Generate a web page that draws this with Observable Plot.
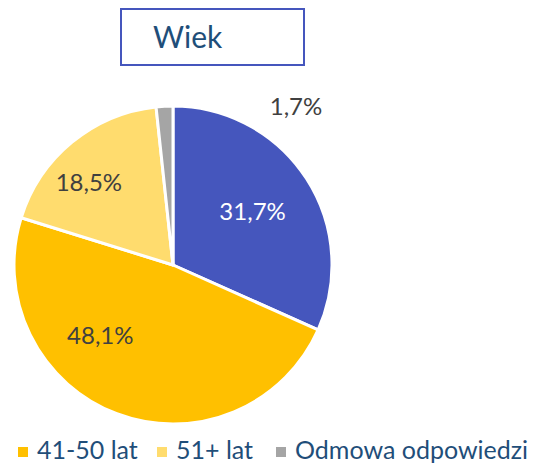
<!DOCTYPE html>
<html>
<head>
<meta charset="utf-8">
<script src="https://cdn.jsdelivr.net/npm/d3@7"></script>
<script src="https://cdn.jsdelivr.net/npm/@observablehq/plot@0.6"></script>
<style>
  html, body { margin: 0; padding: 0; background: #fff; width: 536px; height: 468px; overflow: hidden; font-family: Lato, "Open Sans", sans-serif; }
  #title { position: absolute; left: 120px; top: 8px; width: 181px; height: 54px; border: 2px solid #4556BD; box-sizing: content-box;
           color: #1F4E79; font-size: 30px; line-height: 54px; text-align: left; padding-left: 0; }
  #title span { position: absolute; left: 31px; top: -1px; }
  #chart { position: absolute; left: 0; top: 78px; }
  #legend { position: absolute; left: 0; top: 434px; width: 536px; height: 30px; color: #1F4E79; font-size: 25px; white-space: nowrap; }
  .item { position: absolute; top: 0; line-height: 30px; }
  .sw { display: inline-block; width: 10px; height: 10px; margin-right: 9px; vertical-align: middle; position: relative; top: -1px; }
</style>
</head>
<body>
<div id="title"><span>Wiek</span></div>
<div id="chart"></div>
<div id="legend"></div>
<script>
// Data
const categories = ["31-40 lat", "41-50 lat", "51+ lat", "Odmowa odpowiedzi"];
const values = [31.7, 48.1, 18.5, 1.7];
const labels = ["31,7%", "48,1%", "18,5%", "1,7%"];
const colors = ["#4556BD", "#FFC000", "#FFDC6E", "#A5A5A5"];
const labelColors = ["#FFFFFF", "#404040", "#404040", "#404040"];
// Label placement in unit-circle coordinates (angle in degrees clockwise from top, radius fraction)
const labelAngle = [56, 226, 314, 37.7];
const labelRadius = [0.60, 0.64, 0.74, 1.26];
const legendShown = [1, 2, 3];
const legendLeft = [18, 157, 276];

const slices = d3.pie().sort(null).value(d => d.value).startAngle(0).endAngle(2 * Math.PI)(
  categories.map((c, i) => ({category: c, value: values[i], color: colors[i]}))
);

const labelData = categories.map((c, i) => {
  const a = labelAngle[i] * Math.PI / 180;
  return {x: labelRadius[i] * Math.sin(a), y: labelRadius[i] * Math.cos(a), text: labels[i], fill: labelColors[i]};
});

function pieMark(index, scales, values_, dimensions, context) {
  const cx = scales.x(0), cy = scales.y(0);
  const r = scales.x(1) - scales.x(0);
  const arc = d3.arc().innerRadius(0).outerRadius(r);
  const g = d3.create("svg:g").attr("transform", `translate(${cx},${cy})`);
  g.selectAll("path").data(slices).join("path")
    .attr("d", arc)
    .attr("fill", d => d.data.color)
    .attr("stroke", "#fff")
    .attr("stroke-width", 3)
    .attr("stroke-linejoin", "round");
  return g.node();
}

const R = 159, CX = 173, CY = 187;
const plot = Plot.plot({
  width: 536,
  height: 352,
  margin: 0,
  x: {domain: [-1, 1], range: [CX - R, CX + R], axis: null},
  y: {domain: [-1, 1], range: [CY + R, CY - R], axis: null},
  style: {fontFamily: "Lato, 'Open Sans', sans-serif", background: "transparent"},
  marks: [
    pieMark,
    Plot.text(labelData, {x: "x", y: "y", text: "text", fill: "fill", fontSize: 24})
  ]
});
document.getElementById("chart").appendChild(plot);

const legend = document.getElementById("legend");
legendShown.forEach((i, k) => {
  const it = document.createElement("div");
  it.className = "item";
  it.style.left = legendLeft[k] + "px";
  it.innerHTML = `<span class="sw" style="background:${colors[i]}"></span>${categories[i]}`;
  legend.appendChild(it);
});
</script>
</body>
</html>
